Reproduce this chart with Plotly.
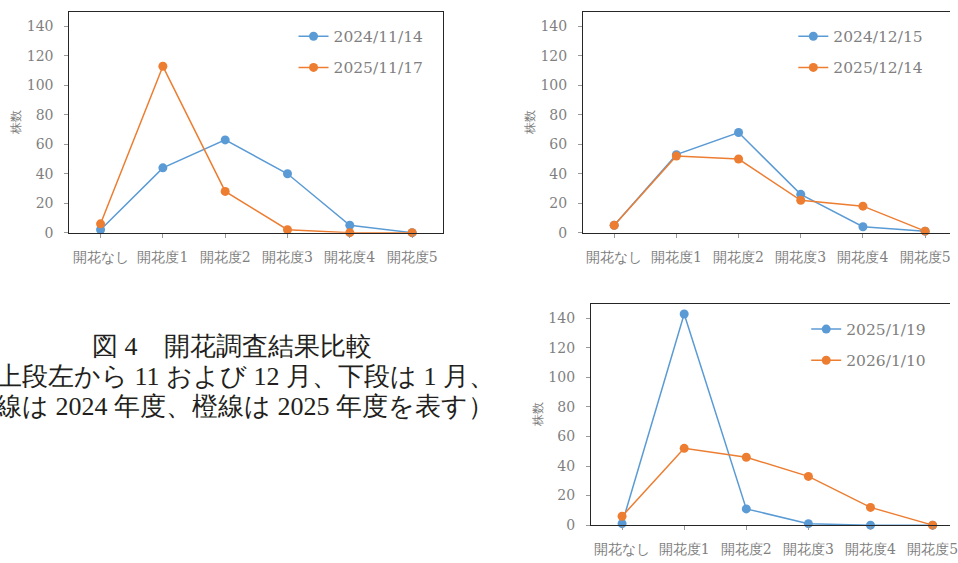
import plotly.graph_objects as go

W, H = 958, 563

categories = ["開花なし", "開花度1", "開花度2", "開花度3", "開花度4", "開花度5"]

nov_names = ["2024/11/14", "2025/11/17"]
nov_2024 = [2, 44, 63, 40, 5, 0]
nov_2025 = [6, 113, 28, 2, 0, 0]

dec_names = ["2024/12/15", "2025/12/14"]
dec_2024 = [5, 53, 68, 26, 4, 1]
dec_2025 = [5, 52, 50, 22, 18, 1]

jan_names = ["2025/1/19", "2026/1/10"]
jan_2025 = [1, 143, 11, 1, 0, 0]
jan_2026 = [6, 52, 46, 33, 12, 0]

y_title = "株数"
y_range = [0, 150]
y_dtick = 20

caption_lines = [
    "図 4　開花調査結果比較",
    "（上段左から 11 および 12 月、下段は 1 月、",
    "青線は 2024 年度、橙線は 2025 年度を表す）",
]

BLUE = "#5B9BD5"
ORANGE = "#ED7D31"
GRAY = "#7f7f7f"
AXIS = "#262626"
NUM_FONT = "DejaVu Serif"
CAP_FONT = "Liberation Serif"


def px_x(p):
    return p / W


def px_y(p):
    return 1 - p / H


panels = [
    (nov_names, [nov_2024, nov_2025], "x", "y", "legend", (70, 447), (12, 236), [-0.5, 5.5], True, (296, 20)),
    (dec_names, [dec_2024, dec_2025], "x2", "y2", "legend2", (800, 958), (12, 236), [-0.5, 5.4], False, (800, 20)),
    (jan_names, [jan_2025, jan_2026], "x3", "y3", "legend3", (596, 958), (308, 532.7), [-0.5, 5.28], False, (813, 317)),
]
# fix top-right domain (left edge 588 px)
panels[1] = (dec_names, [dec_2024, dec_2025], "x2", "y2", "legend2", (588, 958), (12, 236), [-0.5, 5.4], False, (800, 20))

fig = go.Figure()
layout = dict(
    width=W,
    height=H,
    margin=dict(l=0, r=0, t=0, b=0),
    paper_bgcolor="white",
    plot_bgcolor="white",
    showlegend=True,
)

for i, (names, series, xa, ya, lg, xd, yd, xr, mirror_r, lpos) in enumerate(panels):
    for name, vals, col in zip(names, series, [BLUE, ORANGE]):
        fig.add_trace(
            go.Scatter(
                x=categories,
                y=vals,
                name=name,
                mode="lines+markers",
                line=dict(color=col, width=1.5),
                marker=dict(color=col, size=9),
                xaxis=xa,
                yaxis=ya,
                legend=lg,
                legendgroup=f"{lg}_{name}",
                cliponaxis=False,
            )
        )
    xkey = "xaxis" if xa == "x" else "xaxis" + xa[1:]
    ykey = "yaxis" if ya == "y" else "yaxis" + ya[1:]
    layout[xkey] = dict(
        domain=[px_x(xd[0]), px_x(xd[1])],
        anchor=ya,
        type="category",
        range=xr,
        showline=True,
        linecolor=AXIS,
        linewidth=1.3,
        mirror=True,
        ticks="outside",
        ticklen=4,
        tickcolor="#999999",
        ticklabelstandoff=7,
        showgrid=False,
        zeroline=False,
        tickfont=dict(family=NUM_FONT, size=14, color=GRAY),
        fixedrange=True,
    )
    layout[ykey] = dict(
        domain=[px_y(yd[1]), px_y(yd[0])],
        anchor=xa,
        range=y_range,
        dtick=y_dtick,
        showline=True,
        linecolor=AXIS,
        linewidth=1.3,
        mirror=mirror_r,
        ticks="outside",
        ticklen=4,
        tickcolor="#999999",
        ticklabelstandoff=8,
        showgrid=False,
        zeroline=False,
        tickfont=dict(family=NUM_FONT, size=14, color=GRAY),
        title=dict(text=y_title, font=dict(family=NUM_FONT, size=12, color=GRAY), standoff=3),
        fixedrange=True,
    )
    layout[lg] = dict(
        x=px_x(lpos[0]),
        y=px_y(lpos[1]),
        xanchor="left",
        yanchor="top",
        bgcolor="rgba(0,0,0,0)",
        font=dict(family=NUM_FONT, size=15.5, color=GRAY),
        tracegroupgap=8,
        traceorder="grouped",
        itemwidth=30,
    )

annotations = []
for line, yc in zip(caption_lines, [352, 382, 412]):
    annotations.append(
        dict(
            text=line,
            x=px_x(234),
            y=px_y(yc),
            xref="paper",
            yref="paper",
            xanchor="center",
            yanchor="middle",
            showarrow=False,
            font=dict(family=CAP_FONT, size=26, color="#231f20"),
        )
    )
layout["annotations"] = annotations

fig.update_layout(**layout)
fig.write_html(
    "out.html",
    post_script="document.documentElement.style.margin='0';document.body.style.margin='0';document.body.style.overflow='hidden';",
)
